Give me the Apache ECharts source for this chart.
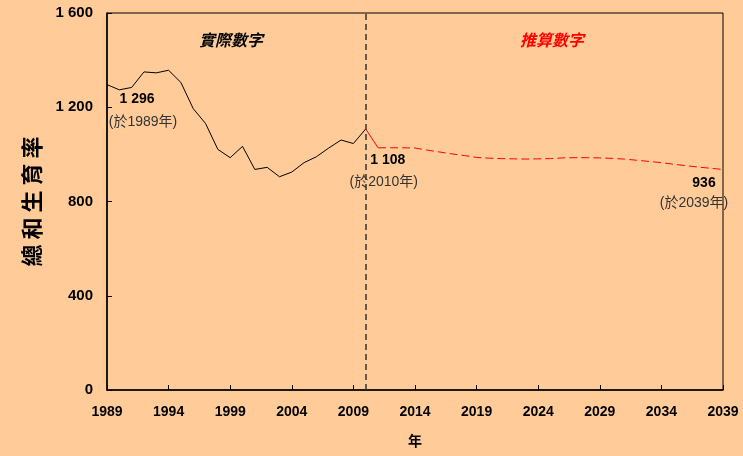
<!DOCTYPE html>
<html>
<head>
<meta charset="utf-8">
<script src="https://cdn.jsdelivr.net/npm/echarts@6/dist/echarts.min.js"></script>
<style>
html,body{margin:0;padding:0;background:#FFCC99;}
#c{width:743px;height:456px;}
</style>
</head>
<body>
<div id="c"></div>
<script>
// Categories: years 1989..2039
var years = [];
for (var y = 1989; y <= 2039; y++) years.push(String(y));

// Actual total fertility rate (per 1000 women), 1989-2010
var actualYears = ['1989','1990','1991','1992','1993','1994','1995','1996','1997','1998','1999','2000','2001','2002','2003','2004','2005','2006','2007','2008','2009','2010'];
var actualValues = [1296,1274,1284,1350,1346,1357,1305,1194,1131,1021,986,1034,936,945,905,925,965,990,1027,1061,1046,1108];

// Projected values, 2011-2039
var projYears = ['2011','2012','2013','2014','2015','2016','2017','2018','2019','2020','2021','2022','2023','2024','2025','2026','2027','2028','2029','2030','2031','2032','2033','2034','2035','2036','2037','2038','2039'];
var projValues = [1028,1028,1028,1027,1018,1010,1002,995,987,984,982,981,980,981,982,985,986,986,985,983,980,975,970,965,958,952,946,941,936];

var yTicks = [0, 400, 800, 1200, 1600];
var dividerIndex = 21.2; // between 2010 and 2011

function fill(cats, vals) {
  var out = years.map(function(){ return null; });
  cats.forEach(function(c, i){ out[years.indexOf(c)] = vals[i]; });
  return out;
}
var actualData = fill(actualYears, actualValues);
var projData = fill(projYears, projValues);
var bridgeData = fill(['2010','2011'], [actualValues[actualValues.length-1], projValues[0]]);

function fmt(v){ return String(v).replace(/\B(?=(\d{3})+(?!\d))/g, ' '); }

var numFont = '"Liberation Sans", Arial, sans-serif';
var cjk = '"Liberation Sans", "Noto Sans CJK TC", sans-serif';

function ann(cat, val, text, off, bold) {
  return {
    coord: [cat, val], symbolSize: 0,
    label: { show: true, position: 'inside', offset: off, formatter: text,
      fontFamily: cjk, fontSize: 14, fontWeight: bold ? 'bold' : 'normal',
      color: bold ? '#000' : '#333' }
  };
}

var chart = echarts.init(document.getElementById('c'));
chart.setOption({
  backgroundColor: '#FFCC99',
  animation: false,
  grid: { left: 107, right: 20, top: 13, bottom: 66, show: true, borderColor: '#000', borderWidth: 1, backgroundColor: 'transparent' },
  xAxis: {
    type: 'category', data: years, boundaryGap: false,
    name: '年', nameLocation: 'middle', nameGap: 45,
    nameTextStyle: { fontFamily: cjk, fontSize: 14, fontWeight: 'bold', color: '#000' },
    axisLine: { lineStyle: { color: '#000', width: 1.5 } },
    axisTick: { inside: true, length: 5, interval: 4, lineStyle: { color: '#000' } },
    axisLabel: { interval: 4, margin: 15, fontFamily: numFont, fontSize: 14, fontWeight: 'bold', color: '#000' },
    splitLine: { show: false }
  },
  yAxis: {
    type: 'value', min: yTicks[0], max: yTicks[yTicks.length-1], interval: 400,
    name: '總 和 生 育 率', nameLocation: 'middle', nameRotate: 90, nameGap: 64,
    nameTextStyle: { fontFamily: '"Noto Sans CJK TC", sans-serif', fontSize: 22, fontWeight: 'bold', color: '#000' },
    axisLine: { show: true, lineStyle: { color: '#000', width: 1.5 } },
    axisTick: { show: true, inside: true, length: 5, lineStyle: { color: '#000' } },
    axisLabel: { margin: 14, fontFamily: numFont, fontSize: 15, fontWeight: 'bold', color: '#000', formatter: function(v){ return fmt(v); } },
    splitLine: { show: false }
  },
  graphic: [
    { type: 'text', left: 199, top: 32, style: { text: '實際數字', fontFamily: '"Noto Sans CJK TC", sans-serif', fontSize: 16, fontWeight: 'bold', fontStyle: 'italic', fill: '#000' } },
    { type: 'text', left: 520, top: 32, style: { text: '推算數字', fontFamily: '"Noto Sans CJK TC", sans-serif', fontSize: 16, fontWeight: 'bold', fontStyle: 'italic', fill: '#FF0000' } }
  ],
  series: [
    {
      type: 'line', data: actualData, symbol: 'none', connectNulls: false,
      lineStyle: { color: '#000', width: 1 },
      markLine: {
        silent: true, symbol: 'none', label: { show: false },
        lineStyle: { color: '#333', type: [6, 4], width: 1.5 },
        data: [{ xAxis: dividerIndex }]
      },
      markPoint: {
        symbol: 'circle', symbolSize: 0,
        data: [
          ann('1989', 1296, fmt(1296), [30, 15], true),
          ann('1989', 1296, '(於1989年)', [36, 38], false),
          ann('2010', 1108, fmt(1108), [22, 31], true),
          ann('2010', 1108, '(於2010年)', [18, 53], false)
        ]
      }
    },
    {
      type: 'line', data: bridgeData, symbol: 'none',
      lineStyle: { color: '#FF0000', width: 1 }
    },
    {
      type: 'line', data: projData, symbol: 'none',
      lineStyle: { color: '#FF0000', width: 1, type: [8, 4] },
      markPoint: {
        symbol: 'circle', symbolSize: 0,
        data: [
          ann('2039', 936, String(936), [-19, 14], true),
          ann('2039', 936, '(於2039年)', [-29, 34], false)
        ]
      }
    }
  ]
});
</script>
</body>
</html>
